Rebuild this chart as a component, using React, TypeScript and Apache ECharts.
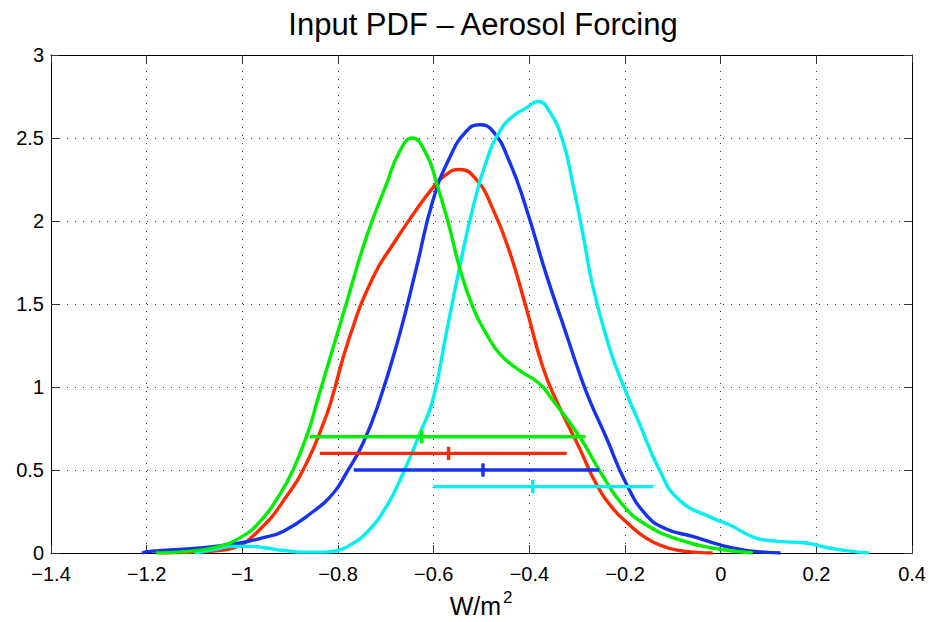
import React, { useEffect, useRef } from 'react';
import * as echarts from 'echarts';

// ---- data ----
const greenX = [-1.18, -1.12, -1.054, -1.0, -0.96, -0.929, -0.894, -0.859, -0.845, -0.783, -0.741, -0.699, -0.671, -0.645, -0.615, -0.595, -0.567, -0.546, -0.518, -0.49, -0.462, -0.421, -0.379, -0.351, -0.295, -0.25, -0.205, -0.156, -0.087, -0.017, 0.067];
const greenY = [0, 0.008, 0.036, 0.1, 0.2, 0.32, 0.5, 0.76, 0.9, 1.5, 1.9, 2.22, 2.42, 2.5, 2.4, 2.24, 1.96, 1.72, 1.48, 1.32, 1.2, 1.1, 1.02, 0.92, 0.7, 0.48, 0.29, 0.17, 0.08, 0.03, 0];

const redX = [-1.17, -1.1, -1.05, -1.019, -0.964, -0.908, -0.866, -0.828, -0.814, -0.776, -0.727, -0.685, -0.643, -0.602, -0.574, -0.547, -0.511, -0.476, -0.442, -0.407, -0.372, -0.344, -0.295, -0.261, -0.226, -0.191, -0.156, -0.12, -0.087, -0.05, -0.017];
const redY = [0, 0.005, 0.015, 0.03, 0.14, 0.34, 0.54, 0.8, 0.92, 1.3, 1.66, 1.86, 2.04, 2.2, 2.28, 2.31, 2.25, 2.07, 1.82, 1.48, 1.12, 0.92, 0.63, 0.42, 0.27, 0.17, 0.09, 0.04, 0.015, 0.004, 0];

const blueX = [-1.21, -1.193, -1.089, -1.005, -0.96, -0.915, -0.852, -0.81, -0.783, -0.748, -0.713, -0.671, -0.636, -0.602, -0.567, -0.532, -0.504, -0.476, -0.442, -0.407, -0.365, -0.323, -0.295, -0.274, -0.24, -0.198, -0.156, -0.114, -0.059, -0.003, 0.053, 0.09, 0.125];
const blueY = [0, 0.01, 0.03, 0.06, 0.09, 0.13, 0.25, 0.36, 0.48, 0.66, 0.92, 1.32, 1.72, 2.12, 2.38, 2.54, 2.58, 2.54, 2.36, 2.08, 1.68, 1.32, 1.08, 0.92, 0.7, 0.42, 0.23, 0.145, 0.1, 0.05, 0.015, 0.005, 0];

const cyanX = [-1.1, -1.06, -1.02, -0.984, -0.95, -0.915, -0.87, -0.83, -0.8, -0.776, -0.741, -0.699, -0.664, -0.629, -0.602, -0.574, -0.546, -0.518, -0.49, -0.462, -0.435, -0.407, -0.382, -0.358, -0.33, -0.309, -0.288, -0.267, -0.233, -0.208, -0.17, -0.128, -0.087, -0.017, 0.018, 0.074, 0.122, 0.178, 0.227, 0.275, 0.31];
const cyanY = [0, 0.02, 0.04, 0.04, 0.03, 0.015, 0.005, 0.005, 0.015, 0.045, 0.12, 0.28, 0.48, 0.72, 0.92, 1.32, 1.72, 2.08, 2.36, 2.54, 2.63, 2.68, 2.72, 2.66, 2.48, 2.22, 1.92, 1.6, 1.24, 1.04, 0.78, 0.5, 0.32, 0.21, 0.17, 0.09, 0.07, 0.06, 0.03, 0.01, 0];

// error bars (order: green, red, blue, cyan)
const barLevel = [0.7, 0.6, 0.5, 0.4];
const barLow = [-0.859, -0.838, -0.767, -0.6];
const barHigh = [-0.283, -0.322, -0.254, -0.141];
const barMid = [-0.625, -0.569, -0.497, -0.393];
const barHalfTick = 0.04;

const seriesNames = ['green', 'red', 'blue', 'cyan'];
const colors: Record<string, string> = {
  green: '#00EE00',
  red: '#FF2A00',
  blue: '#1432F0',
  cyan: '#00F0F0',
};

const FONT = "'Liberation Sans', Arial, Helvetica, sans-serif";

const zip = (xs: number[], ys: number[]) => xs.map((x, i) => [x, ys[i]]);
const fmt = (v: number) => String(Math.round(v * 10) / 10).replace('-', '\u2212');

export default function App() {
  const ref = useRef<HTMLDivElement>(null);
  useEffect(() => {
    if (!ref.current) return;
    const chart = echarts.init(ref.current, undefined, { renderer: 'svg' });

    const curve = (name: string, xs: number[], ys: number[]) => ({
      name,
      type: 'line',
      data: zip(xs, ys),
      smooth: 0.5,
      showSymbol: false,
      symbol: 'none',
      lineStyle: { color: colors[name], width: 3.4 },
      itemStyle: { color: colors[name] },
    });

    const bars: any[] = [];
    seriesNames.forEach((name, i) => {
      bars.push({
        name: name + '-range',
        type: 'line',
        data: [[barLow[i], barLevel[i]], [barHigh[i], barLevel[i]]],
        showSymbol: false,
        symbol: 'none',
        lineStyle: { color: colors[name], width: 3.4 },
      });
      bars.push({
        name: name + '-mid',
        type: 'line',
        data: [[barMid[i], barLevel[i] - barHalfTick], [barMid[i], barLevel[i] + barHalfTick]],
        showSymbol: false,
        symbol: 'none',
        lineStyle: { color: colors[name], width: 3.4 },
      });
    });

    const axisLine = { show: true, onZero: false, lineStyle: { color: '#000', width: 1 } };
    const tick = { show: true, inside: true, length: 8, lineStyle: { color: '#333', width: 1 } };
    const grid = { show: true, lineStyle: { type: [1, 7], color: '#333', width: 1 } };
    const label = { formatter: fmt, fontSize: 20, fontFamily: FONT, color: '#000' };

    chart.setOption({
      animation: false,
      backgroundColor: '#fff',
      title: {
        text: 'Input PDF \u2013 Aerosol Forcing',
        left: 483,
        top: 9,
        padding: 0,
        textAlign: 'center',
        textStyle: { fontFamily: FONT, fontSize: 31, fontWeight: 'normal', color: '#000' },
      },
      grid: { left: 51, right: 16, top: 55, bottom: 69, containLabel: false },
      xAxis: [
        {
          type: 'value', min: -1.4, max: 0.4, interval: 0.2, position: 'bottom',
          axisLine, axisTick: tick, axisLabel: { ...label, margin: 11 }, splitLine: grid,
        },
        {
          type: 'value', min: -1.4, max: 0.4, interval: 0.2, position: 'top',
          axisLine, axisTick: tick, axisLabel: { show: false }, splitLine: { show: false },
        },
      ],
      yAxis: [
        {
          type: 'value', min: 0, max: 3, interval: 0.5, position: 'left',
          axisLine, axisTick: tick, axisLabel: { ...label, margin: 7 }, splitLine: grid,
        },
        {
          type: 'value', min: 0, max: 3, interval: 0.5, position: 'right',
          axisLine, axisTick: tick, axisLabel: { show: false }, splitLine: { show: false },
        },
      ],
      graphic: [
        {
          type: 'text', x: 501, y: 606,
          style: { text: 'W/m', fontSize: 25, fontFamily: FONT, fill: '#000', align: 'right', verticalAlign: 'middle' },
        },
        {
          type: 'text', x: 503, y: 597,
          style: { text: '2', fontSize: 17, fontFamily: FONT, fill: '#000', align: 'left', verticalAlign: 'middle' },
        },
      ],
      series: [
        curve('red', redX, redY),
        curve('blue', blueX, blueY),
        curve('cyan', cyanX, cyanY),
        curve('green', greenX, greenY),
        ...bars,
      ],
    });
    return () => chart.dispose();
  }, []);

  return (
    <div
      ref={ref}
      style={{ position: 'absolute', left: 0, top: 0, width: 929, height: 622, background: '#fff' }}
    />
  );
}
